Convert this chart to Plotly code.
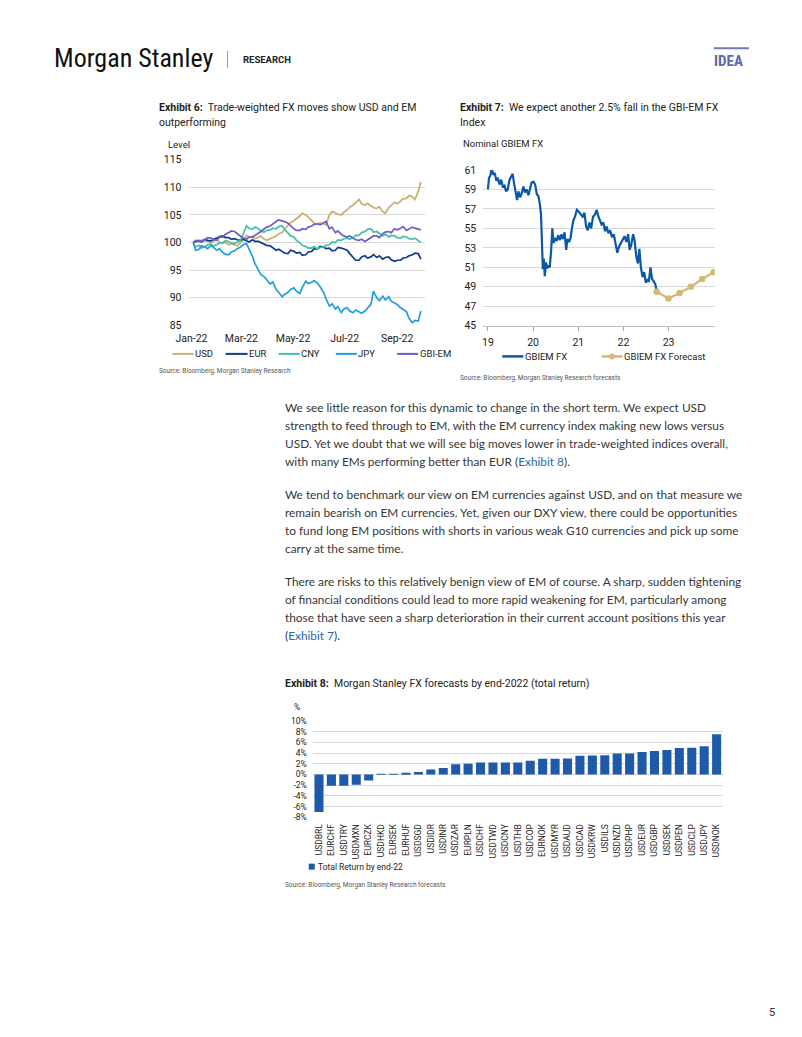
import plotly.graph_objects as go
import pandas as pd

W, H = 802, 1037

# ---------------- Exhibit 6: trade-weighted FX (levels, Mon/Thu observations) ----------------
ex6_dates = [d for d in pd.date_range("2022-01-03", "2022-09-29", freq="D") if d.weekday() in (0, 3)]
ex6_usd = [100.0, 100.3, 100.1, 100.5, 100.4, 100.2, 100.0, 100.3, 100.6, 100.1,
           99.8, 100.0, 99.6, 99.8, 99.5, 99.4, 100.0, 100.6, 101.3, 101.0,
           101.1, 100.7, 100.9, 101.2, 100.6, 100.4, 100.7, 101.0, 101.2, 101.6,
           101.8, 102.4, 103.0, 103.6, 104.0, 104.3, 104.8, 105.3, 105.0, 104.6,
           104.0, 103.5, 103.3, 103.6, 103.4, 103.2, 105.0, 105.6, 105.4, 105.1,
           105.0, 105.5, 105.9, 106.4, 106.8, 107.3, 107.8, 107.0, 106.8, 107.1,
           106.6, 106.3, 106.2, 106.5, 105.6, 105.3, 106.3, 106.8, 107.3, 107.0,
           107.6, 107.9, 108.0, 108.5, 108.3, 107.8, 109.3, 111.0]
ex6_eur = [100.0, 100.2, 100.4, 100.1, 100.6, 100.4, 100.3, 100.6, 100.8, 101.1,
           101.2, 100.9, 100.9, 100.6, 100.7, 100.5, 100.4, 100.6, 100.3, 100.1,
           100.5, 100.2, 100.2, 100.0, 99.8, 99.5, 99.4, 99.0, 98.6, 98.8,
           98.4, 98.1, 98.0, 98.6, 98.4, 98.1, 98.2, 97.7, 97.8, 98.3,
           98.4, 98.9, 98.8, 99.3, 99.2, 98.9, 99.0, 98.5, 98.6, 99.1,
           99.0, 98.8, 98.6, 98.0, 97.4, 96.8, 96.8, 97.4, 97.6, 97.2,
           97.4, 97.8, 97.3, 97.6, 97.0, 97.3, 97.4, 96.9, 96.6, 96.8,
           96.8, 97.2, 97.3, 97.6, 97.8, 98.1, 98.0, 97.0]
ex6_cny = [100.0, 99.2, 99.5, 99.0, 99.3, 99.6, 99.7, 99.4, 99.6, 99.9,
           100.0, 100.3, 100.2, 99.9, 99.8, 100.1, 100.4, 101.5, 103.0, 102.6,
           102.4, 102.8, 102.5, 102.0, 101.9, 102.2, 102.3, 102.6, 102.5, 102.9,
           103.0, 102.4, 101.6, 101.2, 101.0, 100.4, 100.0, 99.5, 99.3, 99.0,
           99.0, 99.3, 98.8, 99.1, 99.2, 99.5, 99.6, 100.1, 100.0, 100.5,
           100.4, 100.7, 100.8, 100.6, 100.9, 101.3, 101.3, 101.8, 102.0, 102.4,
           102.5, 101.9, 102.0, 101.6, 101.2, 101.5, 101.0, 101.3, 101.2, 100.9,
           100.8, 101.1, 101.0, 100.7, 100.6, 100.8, 100.4, 100.0]
ex6_jpy = [100.0, 98.6, 98.8, 99.4, 99.2, 98.9, 99.5, 99.1, 98.6, 98.9,
           98.2, 97.9, 97.8, 98.3, 98.5, 98.9, 99.2, 99.6, 99.8, 98.8,
           97.5, 96.2, 95.0, 94.2, 93.8, 93.2, 92.5, 92.9, 91.5, 91.0,
           90.2, 90.6, 91.0, 91.5, 91.8, 91.2, 90.8, 91.9, 93.0, 92.6,
           92.8, 93.1, 92.6, 92.0, 91.0, 89.8, 88.5, 88.9, 88.0, 88.4,
           87.3, 88.0, 88.2, 87.6, 87.3, 87.8, 87.5, 87.2, 87.6, 88.2,
           88.8, 91.2, 90.0, 89.5, 90.3, 89.6, 90.2, 89.4, 89.0, 88.8,
           88.2, 87.9, 87.5, 86.3, 85.5, 85.9, 85.8, 87.6]
ex6_gbiem = [100.0, 100.4, 100.3, 100.1, 100.5, 100.9, 100.8, 100.5, 100.4, 101.0,
             101.0, 101.5, 101.8, 102.1, 102.0, 101.6, 101.2, 100.8, 100.6, 101.0,
             101.0, 101.3, 101.6, 102.0, 102.5, 102.8, 103.0, 103.4, 103.8, 104.1,
             104.0, 103.8, 103.5, 103.0, 102.5, 102.2, 102.2, 102.5, 102.4, 102.8,
             103.0, 103.3, 103.4, 103.2, 103.6, 103.8, 102.5, 102.8, 101.8, 102.1,
             101.5, 101.2, 101.0, 101.2, 100.8, 100.5, 100.4, 100.6, 100.2, 100.5,
             100.8, 101.2, 101.2, 100.9, 101.6, 101.9, 102.0, 101.8, 102.5, 102.3,
             102.6, 102.9, 102.2, 102.5, 102.8, 102.6, 102.5, 102.3]
ex6_names = ["USD", "EUR", "CNY", "JPY", "GBI-EM"]
ex6_colors = ["#C9AE6C", "#0E3D8E", "#3EC2A4", "#1FA0DD", "#6F5CC9"]
ex6_ticks = [85, 90, 95, 100, 105, 110, 115]

# ---------------- Exhibit 7: Nominal GBIEM FX ----------------
ex7_dates = ["2019-01-01", "2019-01-10", "2019-01-20", "2019-02-01", "2019-02-12", "2019-02-25",
             "2019-03-10", "2019-03-22", "2019-04-05", "2019-04-18", "2019-05-01", "2019-05-15",
             "2019-05-28", "2019-06-10", "2019-06-25", "2019-07-08", "2019-07-20", "2019-08-01",
             "2019-08-12", "2019-08-25", "2019-09-05", "2019-09-18", "2019-10-01", "2019-10-15",
             "2019-10-28", "2019-11-10", "2019-11-25", "2019-12-08", "2019-12-20", "2020-01-05",
             "2020-01-18", "2020-02-01", "2020-02-14", "2020-02-25", "2020-03-05", "2020-03-12",
             "2020-03-20", "2020-03-28", "2020-04-05", "2020-04-15", "2020-04-25", "2020-05-05",
             "2020-05-15", "2020-05-25", "2020-06-05", "2020-06-15", "2020-06-28", "2020-07-10",
             "2020-07-22", "2020-08-05", "2020-08-18", "2020-08-30", "2020-09-12", "2020-09-25",
             "2020-10-05", "2020-10-18", "2020-10-30", "2020-11-10", "2020-11-22", "2020-12-05",
             "2020-12-20", "2021-01-05", "2021-01-20", "2021-02-05", "2021-02-20", "2021-03-05",
             "2021-03-18", "2021-04-01", "2021-04-15", "2021-04-30", "2021-05-15", "2021-05-30",
             "2021-06-10", "2021-06-25", "2021-07-08", "2021-07-22", "2021-08-05", "2021-08-18",
             "2021-09-01", "2021-09-15", "2021-10-01", "2021-10-15", "2021-10-30", "2021-11-12",
             "2021-11-25", "2021-12-10", "2021-12-25", "2022-01-10", "2022-01-25", "2022-02-08",
             "2022-02-20", "2022-03-05", "2022-03-20", "2022-04-01", "2022-04-15", "2022-04-28",
             "2022-05-10", "2022-05-22", "2022-06-05", "2022-06-18", "2022-07-01", "2022-07-12",
             "2022-07-25", "2022-08-08", "2022-08-20", "2022-09-01", "2022-09-15", "2022-09-27"]
ex7_gbiem = [59.0, 60.2, 60.4, 61.2, 60.5, 60.7,
             59.9, 60.2, 59.5, 60.0, 59.3, 59.4,
             58.8, 59.0, 60.0, 60.3, 60.6, 59.6,
             58.6, 57.9, 58.8, 58.2, 58.6, 59.3,
             58.7, 59.0, 58.4, 59.1, 59.7, 59.8,
             59.5, 58.5, 58.3, 57.5, 56.5, 54.0,
             50.8, 51.9, 50.1, 51.5, 50.9, 51.2,
             51.0, 52.5, 55.0, 53.5, 54.0, 53.7,
             54.3, 53.8, 54.4, 53.9, 54.6, 52.8,
             53.9, 53.6, 54.0, 55.0, 55.8, 56.2,
             56.9, 56.7, 56.5, 56.2, 56.6, 55.2,
             54.8, 55.6, 55.0, 56.2, 56.4, 56.9,
             56.3, 55.8, 55.4, 55.6, 54.7, 55.2,
             54.5, 54.8, 54.1, 54.4, 53.5, 52.5,
             53.1, 53.4, 53.8, 54.2, 53.6, 54.4,
             52.8, 53.3, 54.4, 53.8, 52.1, 51.4,
             52.9, 51.0, 50.0, 50.5, 49.4, 49.8,
             49.5, 51.0, 49.8, 49.6, 49.3, 48.6]
ex7_fc_dates = ["2022-09-27", "2022-12-31", "2023-03-31", "2023-06-30", "2023-09-30", "2023-12-31"]
ex7_fc = [48.5, 47.8, 48.35, 49.0, 49.8, 50.5]
ex7_xticks = ["2019-01-01", "2020-01-01", "2021-01-01", "2022-01-01", "2023-01-01"]
ex7_xlabels = ["19", "20", "21", "22", "23"]
ex7_yticks = [45, 47, 49, 51, 53, 55, 57, 59, 61]

# ---------------- Exhibit 8: MS FX forecasts by end-2022 ----------------
ex8_pairs = ["USDBRL", "EURCHF", "USDTRY", "USDMXN", "EURCZK", "USDHKD", "EURSEK", "EURHUF",
             "USDSGD", "USDIDR", "USDINR", "USDZAR", "EURPLN", "USDCHF", "USDTWD", "USDCNY",
             "USDTHB", "USDCOP", "EURNOK", "USDMYR", "USDAUD", "USDCAD", "USDKRW", "USDILS",
             "USDNZD", "USDPHP", "USDEUR", "USDGBP", "USDSEK", "USDPEN", "USDCLP", "USDJPY", "USDNOK"]
ex8_ret = [-7.0, -2.1, -2.1, -1.9, -1.1, 0.05, 0.05, 0.15,
           0.45, 0.95, 1.2, 1.9, 2.0, 2.25, 2.25, 2.25,
           2.25, 2.55, 2.95, 2.95, 3.0, 3.5, 3.55, 3.6,
           3.9, 3.9, 4.2, 4.4, 4.55, 4.95, 5.0, 5.25, 7.5]
ex8_yticks = [-8, -6, -4, -2, 0, 2, 4, 6, 8, 10]
ex8_ylabels = ["-8%", "-6%", "-4%", "-2%", "0%", "2%", "4%", "6%", "8%", "10%"]

CF = "Roboto, Arial, sans-serif"
NARROW = "Liberation Sans Narrow, Roboto Condensed, Arial Narrow, Roboto, sans-serif"
BODY = "Lato, Open Sans, sans-serif"
GRID = "#D9D9D9"
TXT = "#222222"

# page-position helpers: target page pixel -> paper fraction (photo frame calibration)
SX, OX = 0.98, 15.0
SY, OY = 0.9889, 4.1


def X(p):
    return ((p - OX) / SX) / W


def Y(p):
    return 1 - ((p - OY) / SY) / H


fig = go.Figure()

ex6_series = [ex6_usd, ex6_eur, ex6_cny, ex6_jpy, ex6_gbiem]
for name, vals, col in zip(ex6_names, ex6_series, ex6_colors):
    fig.add_trace(go.Scatter(x=ex6_dates, y=vals, name=name, mode="lines",
                             line=dict(color=col, width=1.7), xaxis="x", yaxis="y",
                             hoverinfo="skip"))

fig.add_trace(go.Scatter(x=ex7_dates, y=ex7_gbiem, name="GBIEM FX", mode="lines",
                         line=dict(color="#0B57A8", width=2.2), xaxis="x2", yaxis="y2"))
fig.add_trace(go.Scatter(x=ex7_fc_dates, y=ex7_fc, name="GBIEM FX Forecast", mode="lines+markers",
                         line=dict(color="#D3BA6E", width=2.2),
                         marker=dict(color="#D3BA6E", size=6.5), xaxis="x2", yaxis="y2"))

fig.add_trace(go.Bar(x=ex8_pairs, y=ex8_ret, name="Total Return by end-22",
                     marker=dict(color="#1F5AA8", line=dict(width=0)), xaxis="x3", yaxis="y3"))

tick_font = dict(family=CF, size=10.5, color=TXT)

fig.update_layout(
    width=W, height=H, margin=dict(l=0, r=0, t=0, b=0),
    paper_bgcolor="white", plot_bgcolor="white", showlegend=False,
    bargap=0.27,
    xaxis=dict(domain=[X(190), X(425)], anchor="y", type="date",
               range=["2021-12-29 14:00", "2022-10-04"], tickformat="%b-%y", dtick="M2",
               tick0="2022-01-01", showgrid=False, zeroline=False, showline=False, ticks="",
               tickfont=tick_font, ticklabelstandoff=5),
    yaxis=dict(domain=[Y(324), Y(158)], anchor="x", range=[85, 115], tickvals=ex6_ticks,
               showgrid=True, gridcolor=GRID, gridwidth=1, zeroline=False, showline=False,
               ticks="", tickfont=tick_font, ticklabelstandoff=7),
    xaxis2=dict(domain=[X(483), X(714)], anchor="y2", type="date",
                range=["2018-11-24", "2024-01-10"], tickvals=ex7_xticks, ticktext=ex7_xlabels,
                showgrid=False, zeroline=False, showline=True, linecolor="#BFBFBF", linewidth=1,
                ticks="outside", ticklen=4, tickcolor="#A6A6A6", tickfont=tick_font,
                ticklabelstandoff=3),
    yaxis2=dict(domain=[Y(324.3), Y(168.3)], anchor="x2", range=[45, 61], tickvals=ex7_yticks,
                showgrid=True, gridcolor=GRID, gridwidth=1, zeroline=False, showline=False,
                ticks="", tickfont=tick_font, ticklabelstandoff=6),
    xaxis3=dict(domain=[X(313), X(722)], anchor="y3", tickangle=-90, showgrid=False,
                zeroline=False, showline=False, ticks="",
                tickfont=dict(family=CF, size=8.5, color=TXT), ticklabelstandoff=4),
    yaxis3=dict(domain=[Y(816.7), Y(720)], anchor="x3", range=[-8, 10], tickvals=ex8_yticks,
                ticktext=ex8_ylabels, showgrid=True, gridcolor=GRID, gridwidth=1, zeroline=False,
                showline=False, ticks="", tickfont=dict(family=CF, size=8.5, color=TXT),
                ticklabelstandoff=5),
)

annotations = []
shapes = []


def ann(x, y, text, size, color=TXT, family=CF, xanchor="left", yanchor="middle"):
    annotations.append(dict(x=X(x), y=Y(y), xref="paper", yref="paper", text=text,
                            showarrow=False, xanchor=xanchor, yanchor=yanchor, align="left",
                            borderpad=0, font=dict(size=size, color=color, family=family)))


def hline(x0, x1, y, color, width):
    shapes.append(dict(type="line", xref="paper", yref="paper", x0=X(x0), x1=X(x1),
                       y0=Y(y), y1=Y(y), line=dict(color=color, width=width)))


# header
ann(54, 56, "Morgan Stanley", 26, color="#111111", family=NARROW)
shapes.append(dict(type="line", xref="paper", yref="paper", x0=X(228), x1=X(228),
                   y0=Y(49), y1=Y(66), line=dict(color="#9A9A9A", width=1)))
ann(242, 57.5, "<b>RESEARCH</b>", 9.5, color="#222222", family=CF)
hline(713, 748, 46.5, "#6F79B8", 2)
ann(712, 59.5, "<b>IDEA</b>", 15, color="#5B69AE", family=NARROW)

# Exhibit 6 texts
ann(159, 105.5, "<b>Exhibit 6:</b>\u00a0 Trade-weighted FX moves show USD and EM", 10.5)
ann(159, 120.5, "outperforming", 10.5)
ann(168, 143, "Level", 9.5)
leg6 = [(173, 194), (226, 248), (279, 300), (336, 357), (397, 418)]
for (a, b), name, col in zip(leg6, ex6_names, ex6_colors):
    hline(a, b, 352.5, col, 2)
    ann(b + 0.5, 352.5, name, 9.5)
ann(159, 370, "Source: Bloomberg, Morgan Stanley Research", 6.5, color="#555555")

# Exhibit 7 texts
ann(459, 105.5, "<b>Exhibit 7:</b>\u00a0 We expect another 2.5% fall in the GBI-EM FX", 10.5)
ann(459, 120.5, "Index", 10.5)
ann(462, 142, "Nominal GBIEM FX", 9.5)
hline(502, 523, 355, "#0B57A8", 2.5)
ann(523.5, 355, "GBIEM FX", 9.5)
hline(601, 622, 355, "#D3BA6E", 2.5)
shapes.append(dict(type="circle", xref="paper", yref="paper", x0=X(608.5), x1=X(614.5),
                   y0=Y(352), y1=Y(358), fillcolor="#D3BA6E", line=dict(width=0)))
ann(622.5, 355, "GBIEM FX Forecast", 9.5)
ann(459, 377, "Source: Bloomberg, Morgan Stanley Research forecasts", 6.5, color="#555555")

# body text
LINK = "#2A66B0"
body = [
    (406, "We see little reason for this dynamic to change in the short term. We expect USD"),
    (424, "strength to feed through to EM, with the EM currency index making new lows versus"),
    (442, "USD. Yet we doubt that we will see big moves lower in trade-weighted indices overall,"),
    (460, f"with many EMs performing better than EUR (<span style='color:{LINK}'>Exhibit 8</span>)."),
    (493, "We tend to benchmark our view on EM currencies against USD, and on that measure we"),
    (511, "remain bearish on EM currencies. Yet, given our DXY view, there could be opportunities"),
    (529, "to fund long EM positions with shorts in various weak G10 currencies and pick up some"),
    (547, "carry at the same time."),
    (580.5, "There are risks to this relatively benign view of EM of course. A sharp, sudden tightening"),
    (598.5, "of financial conditions could lead to more rapid weakening for EM, particularly among"),
    (616.5, "those that have seen a sharp deterioration in their current account positions this year"),
    (635, f"(<span style='color:{LINK}'>Exhibit 7</span>)."),
]
for yy, t in body:
    ann(284, yy, t, 11.85, color="#363636", family=BODY)

# Exhibit 8 texts
ann(284, 683, "<b>Exhibit 8:</b>\u00a0 Morgan Stanley FX forecasts by end-2022 (total return)", 10.5)
ann(293, 706, "%", 8.5)
shapes.append(dict(type="rect", xref="paper", yref="paper", x0=X(309), x1=X(315),
                   y0=Y(863), y1=Y(869), fillcolor="#1F5AA8", line=dict(width=0)))
ann(317, 866, "Total Return by end-22", 8.5)
ann(284, 884, "Source: Bloomberg, Morgan Stanley Research forecasts", 6.5, color="#555555")

# page number
ann(771, 1012, "5", 11, color="#333333", xanchor="center")

fig.update_layout(annotations=annotations, shapes=shapes)
fig.write_html("out.html", config={"displayModeBar": False},
               post_script="document.body.style.margin='0px';")
